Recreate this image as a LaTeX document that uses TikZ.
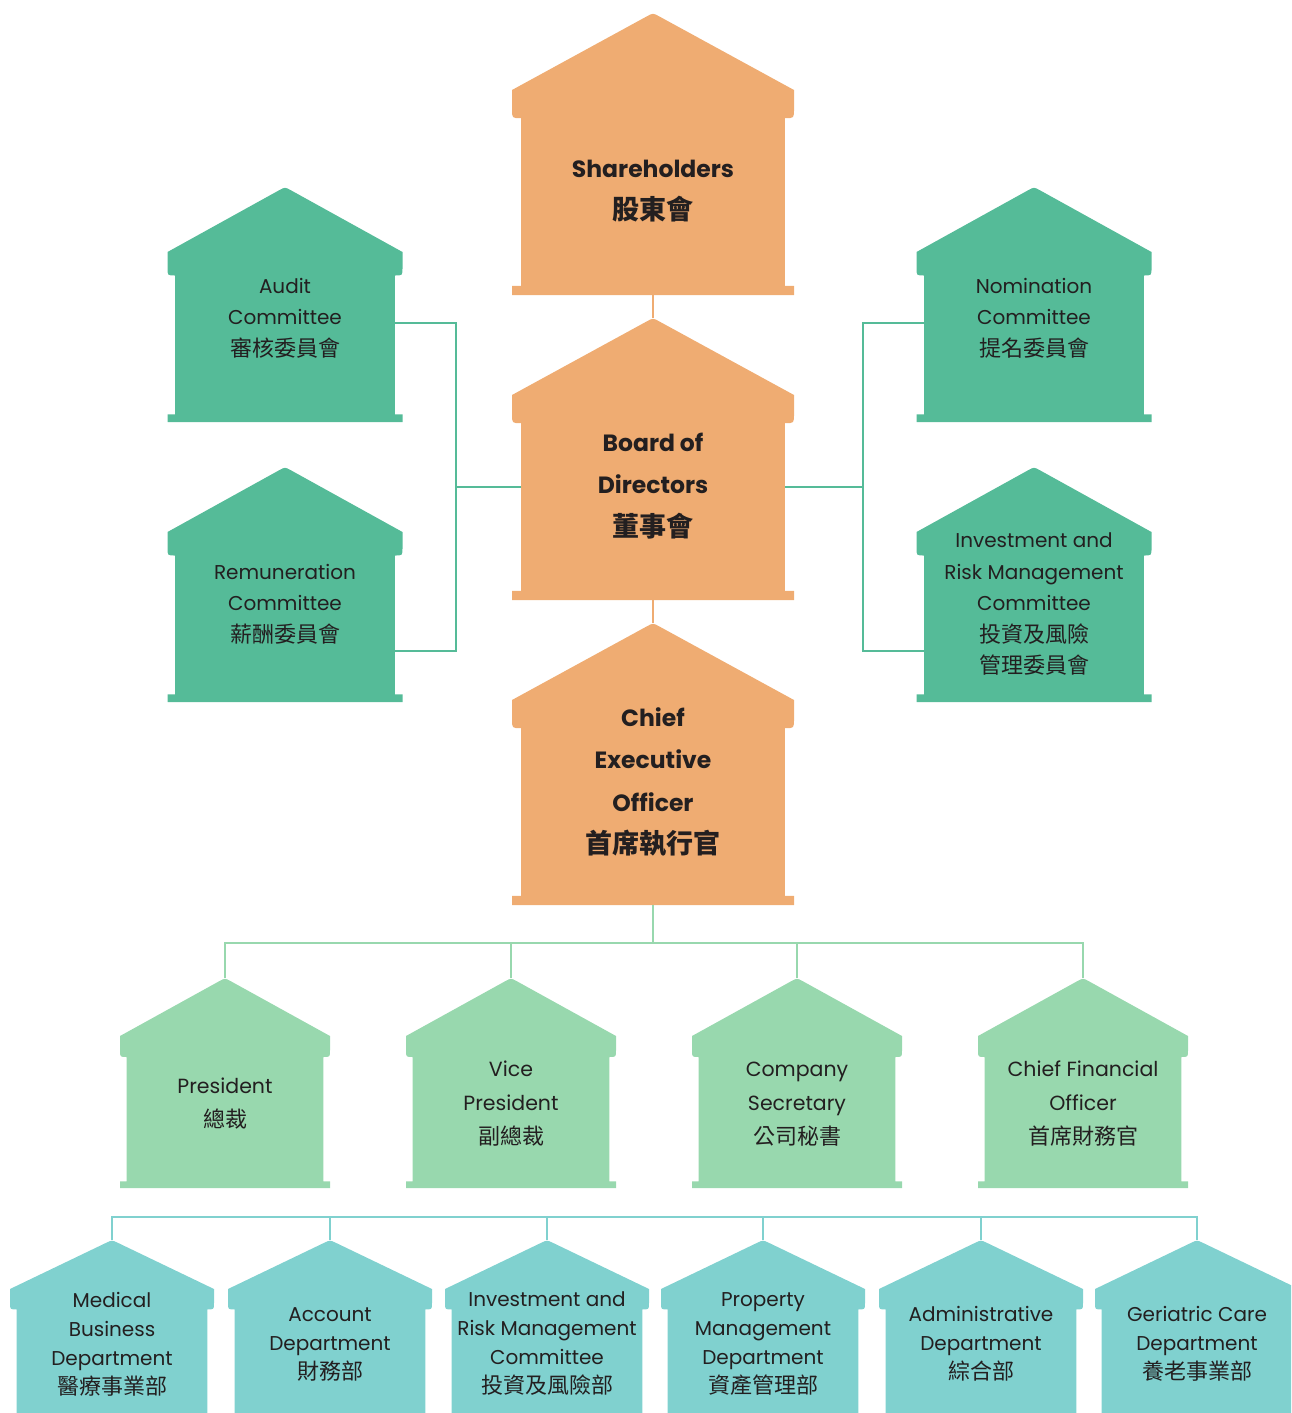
\documentclass[tikz,border=0pt]{standalone}
\usepackage{fontspec}
\setmainfont{Poppins}
\newfontfamily\cjk{Noto Sans CJK TC}
\newcommand\zh[2][22]{{\cjk\fontsize{#1}{30}\selectfont #2}}
\definecolor{hOrange}{HTML}{EFAC72}
\definecolor{hGreen}{HTML}{55BB98}
\definecolor{hMint}{HTML}{98D8AE}
\definecolor{hTeal}{HTML}{80D1CF}
\definecolor{hInk}{HTML}{231F20}
\tikzset{
  htext/.style = {align=center, inner sep=0pt, text=hInk},
  boss/.style = {htext, font=\bfseries\fontsize{23.5}{42.5}\selectfont},% orange, top line
  cmte/.style = {htext, font=\fontsize{20}{31.5}\selectfont},% committees
  exec/.style = {htext, font=\fontsize{20.5}{34}\selectfont},% officers
  dept/.style = {htext, font=\fontsize{20}{29}\selectfont},% departments
  link/.style = {line width=2.8pt},
  % width / roof height / colour / text style / text y / text
  pics/house/.style n args={6}{code={
    \pgfmathsetmacro\hsH{#1/2}
    \pgfmathsetmacro\hsR{#2}
    \pgfmathsetmacro\hsE{#2+0.1*#1}
    \pgfmathsetmacro\hsI{0.032*#1}
    \pgfmathsetmacro\hsP{0.968*#1}
    \pgfmathsetmacro\hsS{#2/(#1/2)}
    \pgfmathsetmacro\hsBW{#1-2*\hsI}
    \pgfmathsetmacro\hsBH{\hsP-\hsE}
    \fill[#3] ({-\hsH},{\hsE-\hsI}) -- ({-\hsH},\hsR) -- (-6,{6*\hsS})
      .. controls (0,0) .. (6,{6*\hsS}) -- (\hsH,\hsR) -- (\hsH,{\hsE-\hsI})
      .. controls (\hsH,\hsE) .. ({\hsH-\hsI},\hsE) -- ({\hsH-\hsI},\hsP)
      -- (\hsH,\hsP) -- (\hsH,#1) -- ({-\hsH},#1) -- ({-\hsH},\hsP)
      -- ({-\hsH+\hsI},\hsP) -- ({-\hsH+\hsI},\hsE)
      .. controls ({-\hsH},\hsE) .. ({-\hsH},{\hsE-\hsI}) -- cycle;
    \node[inner sep=0pt, outer sep=0pt, minimum width=\hsBW pt,
      minimum height=\hsBH pt] (-b) at (0,{(\hsE+\hsP)/2}) {};
    \coordinate (-top) at (0,0);
    \coordinate (-bot) at (0,#1);
    \node[#4] (-t) at (0,#5) {#6};
  }}
}
\begin{document}
\begin{tikzpicture}[x=1pt, y=-1pt]
  \useasboundingbox (0,0) rectangle (1291,1413);
  \clip (0,0) rectangle (1291,1413);
  % board line
  \pic (sh) at (653,13) {house={282}{77}{hOrange}{boss}{178}{Shareholders\\\zh[27]{股東會}}};
  \pic (bd) at (653,318) {house={282}{77}{hOrange}{boss}{168}{Board of\\Directors\\\zh[27]{董事會}}};
  \pic (ceo) at (653,623) {house={282}{77}{hOrange}{boss}{159}{Chief\\Executive\\Officer\\\zh[27]{首席執行官}}};
  % committees
  \pic (au) at (285,187) {house={235}{65}{hGreen}{cmte}{131}{Audit\\Committee\\\zh{審核委員會}}};
  \pic (re) at (285,467) {house={235}{65}{hGreen}{cmte}{137}{Remuneration\\Committee\\\zh{薪酬委員會}}};
  \pic (no) at (1034,187) {house={235}{65}{hGreen}{cmte}{131}{Nomination\\Committee\\\zh{提名委員會}}};
  \pic (ir) at (1034,467) {house={235}{65}{hGreen}{cmte}{137}{Investment and\\Risk Management\\Committee\\\zh{投資及風險}\\\zh{管理委員會}}};
  % officers
  \pic (pr) at (225,978) {house={210}{58}{hMint}{exec}{126}{President\\\zh{總裁}}};
  \pic (vp) at (511,978) {house={210}{58}{hMint}{exec}{126}{Vice\\President\\\zh{副總裁}}};
  \pic (cs) at (797,978) {house={210}{58}{hMint}{exec}{126}{Company\\Secretary\\\zh{公司秘書}}};
  \pic (cf) at (1083,978) {house={210}{58}{hMint}{exec}{126}{Chief Financial\\Officer\\\zh{首席財務官}}};
  % departments
  \pic (md) at (112,1240) {house={204}{49}{hTeal}{dept}{104}{Medical\\Business\\Department\\\zh{醫療事業部}}};
  \pic (ac) at (330,1240) {house={204}{49}{hTeal}{dept}{104}{Account\\Department\\\zh{財務部}}};
  \pic (rm) at (547,1240) {house={204}{49}{hTeal}{dept}{104}{Investment and\\Risk Management\\Committee\\\zh{投資及風險部}}};
  \pic (pm) at (763,1240) {house={204}{49}{hTeal}{dept}{104}{Property\\Management\\Department\\\zh{資產管理部}}};
  \pic (ad) at (981,1240) {house={204}{49}{hTeal}{dept}{104}{Administrative\\Department\\\zh{綜合部}}};
  \pic (gc) at (1197,1240) {house={204}{49}{hTeal}{dept}{104}{Geriatric Care\\Department\\\zh{養老事業部}}};
  % connectors
  \draw[link, hOrange] (sh-bot) -- (bd-top);
  \draw[link, hOrange] (bd-bot) -- (ceo-top);
  \draw[link, hGreen] ([yshift=20pt]bd-b.west) -- ++(-65,0) coordinate (jl);
  \draw[link, hGreen] ([yshift=22pt]au-b.east) -| (jl) |- ([yshift=-26pt]re-b.east);
  \draw[link, hGreen] ([yshift=20pt]bd-b.east) -- ++(78,0) coordinate (jr);
  \draw[link, hGreen] ([yshift=22pt]no-b.west) -| (jr) |- ([yshift=-26pt]ir-b.west);
  \draw[link, hMint] (ceo-bot) -- ++(0,38) coordinate (bus3);
  \draw[link, hMint] (pr-top) -- ++(0,-35) -| (cf-top);
  \foreach \o in {vp, cs} \draw[link, hMint] (\o-top) -- (\o-top |- bus3);
  \draw[link, hTeal] (md-top) -- ++(0,-23) coordinate (bus4) -| (gc-top);
  \foreach \d in {ac, rm, pm, ad} \draw[link, hTeal] (\d-top) -- (\d-top |- bus4);
\end{tikzpicture}
\end{document}
